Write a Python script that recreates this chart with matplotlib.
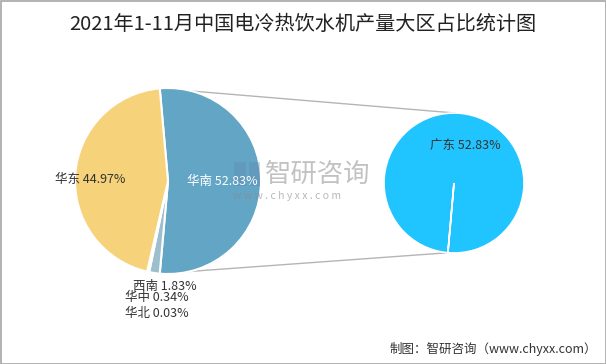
import numpy as np
import matplotlib.pyplot as plt
from matplotlib.patches import Rectangle

plt.rcParams['font.family'] = ['Noto Sans CJK SC', 'DejaVu Sans']

# --- Data ---
regions = ["华南", "西南", "华中", "华北", "华东"]
shares = [52.83, 1.83, 0.34, 0.03, 44.97]
colors = ["#62A5C5", "#9DBFCD", "#9DBFCD", "#9DBFCD", "#F6D37A"]

sub_names = ["广东"]
sub_shares = [52.83]

# --- Layout (pixel coords, y up) ---
W, H = 606, 364
big_c, big_r = (168, 183), 93
small_c, small_r = (454, 181), 70

fig = plt.figure(figsize=(W / 100, H / 100), dpi=100)
ax = fig.add_axes([0, 0, 1, 1])

# main pie, 华南 centred on the right
start = shares[0] / 100 * 180
ax.pie(shares, colors=colors, startangle=start, counterclock=False,
       center=big_c, radius=big_r, frame=True,
       wedgeprops=dict(edgecolor="white", linewidth=1.5))

# second pie (breakdown of 华南)
ax.pie([100], colors=["#20C4FE"], startangle=-95, counterclock=False,
       center=small_c, radius=small_r, frame=True,
       wedgeprops=dict(edgecolor="white", linewidth=1.2))
ax.set_xlim(0, W)
ax.set_ylim(0, H)
ax.axis("off")

# frame
ax.add_patch(Rectangle((0.5, 0.5), W - 1, H - 1, fill=False, ec="#A6A6A6", lw=1.2))

# connector lines
a1 = np.deg2rad(start)
a2 = np.deg2rad(start - shares[0] / 100 * 360)
p_top = (big_c[0] + big_r * np.cos(a1), big_c[1] + big_r * np.sin(a1))
p_bot = (big_c[0] + big_r * np.cos(a2), big_c[1] + big_r * np.sin(a2))
q_top = (small_c[0] + small_r * np.cos(np.deg2rad(89)), small_c[1] + small_r * np.sin(np.deg2rad(89)))
q_bot = (small_c[0] + small_r * np.cos(np.deg2rad(-95)), small_c[1] + small_r * np.sin(np.deg2rad(-95)))
ax.plot([p_top[0], q_top[0]], [p_top[1], q_top[1]], color="#B5B5B5", lw=1, zorder=0)
ax.plot([p_bot[0], q_bot[0]], [p_bot[1], q_bot[1]], color="#B5B5B5", lw=1, zorder=0)

# watermark
ax.add_patch(Rectangle((234, 178), 12, 24, color="#5F82A8", alpha=0.3, lw=0))
ax.add_patch(Rectangle((249, 178), 11, 24, color="#5F82A8", alpha=0.3, lw=0))
ax.text(265, 190, "智研咨询", fontsize=19, color="#9A9A9A", alpha=0.6,
        va="center", ha="left")
ax.text(233, 168, "w w w . c h y x x . c o m", fontsize=7.5, color="#8A8A8A",
        alpha=0.6, va="center", ha="left")

# slice labels
fs = 9
ax.text(222, 183, f"{regions[0]} {shares[0]:.2f}%", color="white", fontsize=fs,
        ha="center", va="center")
ax.text(90, 185, f"{regions[4]} {shares[4]:.2f}%", color="#333333", fontsize=fs,
        ha="center", va="center")
ax.text(165, 78, f"{regions[1]} {shares[1]:.2f}%", color="#333333", fontsize=fs,
        ha="center", va="center")
ax.text(157, 66, f"{regions[2]} {shares[2]:.2f}%", color="#333333", fontsize=fs,
        ha="center", va="center")
ax.text(157, 51, f"{regions[3]} {shares[3]:.2f}%", color="#333333", fontsize=fs,
        ha="center", va="center")
ax.text(465, 219, f"{sub_names[0]} {sub_shares[0]:.2f}%", color="#333333",
        fontsize=fs, ha="center", va="center")

# title and source
ax.text(W / 2, H - 24, "2021年1-11月中国电冷热饮水机产量大区占比统计图",
        fontsize=14.5, color="#222222", ha="center", va="center")
ax.text(597, 15, "制图：智研咨询（www.chyxx.com）", fontsize=9,
        color="#333333", ha="right", va="center")

fig.savefig("out.png", dpi=100)
